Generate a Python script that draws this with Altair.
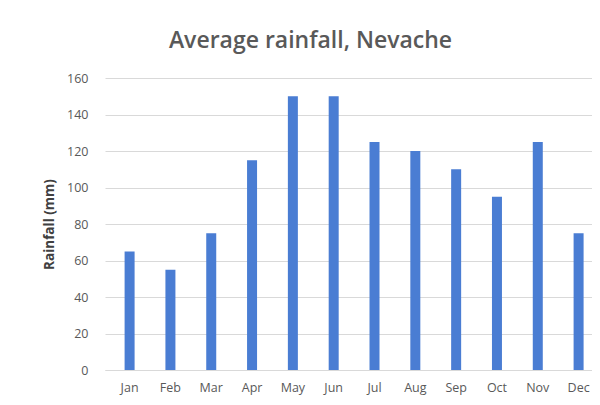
import altair as alt
import pandas as pd

months = ["Jan", "Feb", "Mar", "Apr", "May", "Jun", "Jul", "Aug", "Sep", "Oct", "Nov", "Dec"]
rainfall = [65, 55, 75, 115, 150, 150, 125, 120, 110, 95, 125, 75]

df = pd.DataFrame({"Month": months, "Rainfall": rainfall})

font = "Open Sans"

chart = alt.Chart(df).mark_bar(color="#4a7dd3").encode(
    x=alt.X("Month:N", sort=months, title=None,
            scale=alt.Scale(paddingInner=0.755, paddingOuter=0.343, align=0.7),
            axis=alt.Axis(labelAngle=0, labelFont=font, labelFontSize=12.5,
                          labelColor="#595959", ticks=False, domain=True,
                          domainColor="#d9d9d9", labelPadding=11)),
    y=alt.Y("Rainfall:Q", title="Rainfall (mm)",
            scale=alt.Scale(domain=[0, 160]),
            axis=alt.Axis(values=list(range(0, 161, 20)), labelFont=font,
                          labelFontSize=12.5, labelColor="#595959", ticks=False,
                          domain=False, gridColor="#d9d9d9", labelPadding=17,
                          titleFont=font, titleFontSize=13.5, titleFontWeight="bold",
                          titleColor="#404040", titlePadding=10)),
).properties(
    width=487,
    height=292,
    title=alt.TitleParams("Average rainfall, Nevache", font=font, fontSize=23,
                          fontWeight=600, color="#595959", offset=19, dx=-38),
    autosize=alt.AutoSizeParams(type="none"),
    padding={"left": 97, "top": 70, "right": 0, "bottom": 27},
).configure_view(stroke=None)

chart.save("out.html", embed_options={"renderer": "svg", "actions": False})
